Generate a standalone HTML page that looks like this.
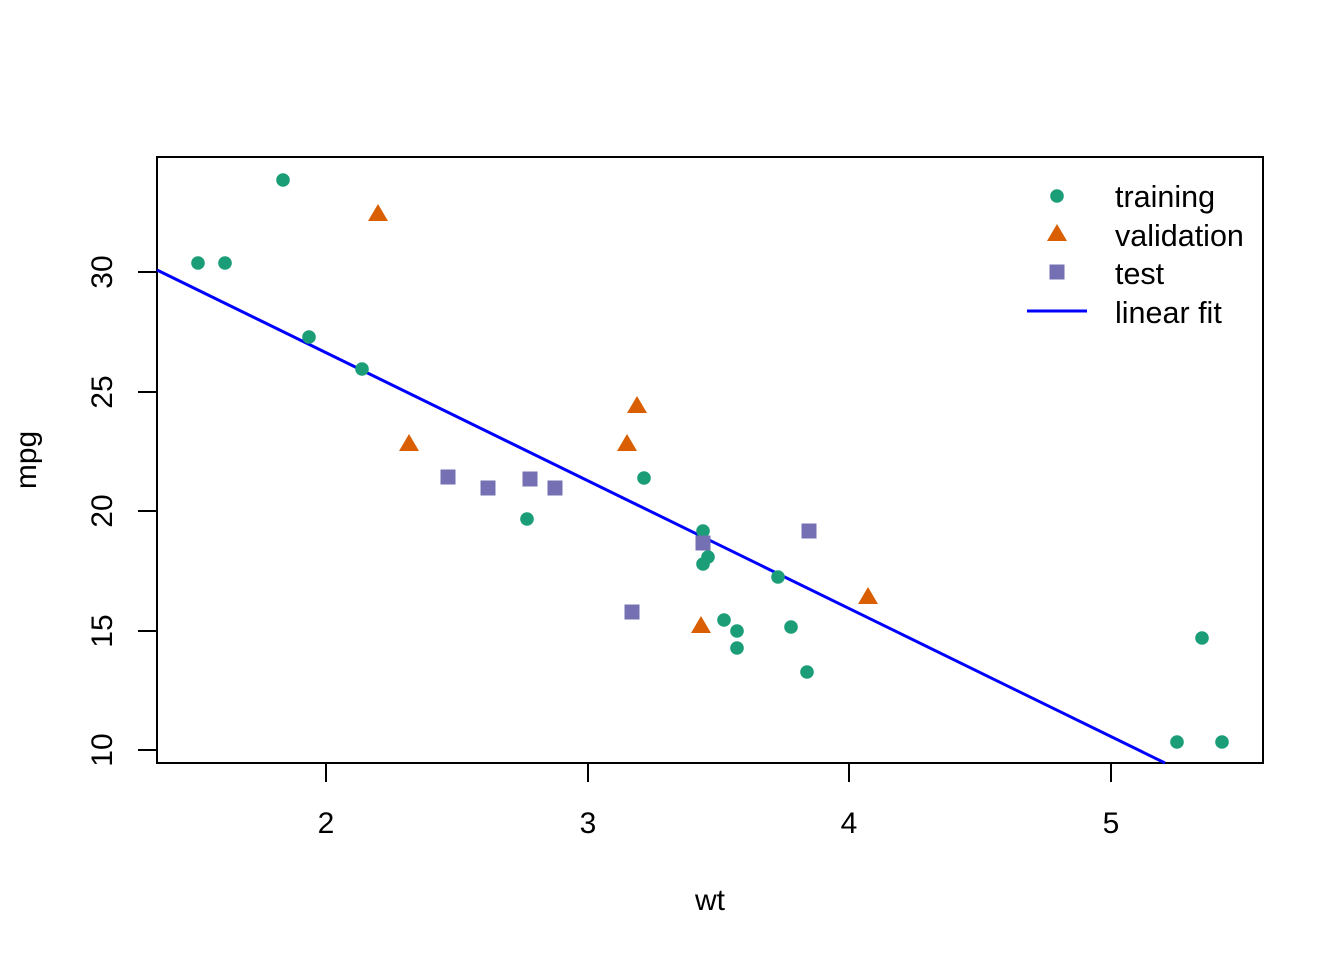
<!DOCTYPE html>
<html><head><meta charset="utf-8"><style>body{margin:0;background:#fff}svg{display:block}</style></head><body>
<svg width="1344" height="960" xmlns="http://www.w3.org/2000/svg" font-family="Liberation Sans, Arial, sans-serif">
<rect width="1344" height="960" fill="#fff"/>
<rect x="157" y="157" width="1106" height="606" fill="none" stroke="#000" stroke-width="2"/>
<g stroke="#000" stroke-width="2">
<line x1="326" y1="763" x2="326" y2="782"/><line x1="588" y1="763" x2="588" y2="782"/><line x1="849" y1="763" x2="849" y2="782"/><line x1="1111" y1="763" x2="1111" y2="782"/>
<line x1="157" y1="750" x2="138" y2="750"/><line x1="157" y1="631" x2="138" y2="631"/><line x1="157" y1="511" x2="138" y2="511"/><line x1="157" y1="392" x2="138" y2="392"/><line x1="157" y1="272" x2="138" y2="272"/>
</g>
<g font-size="30" text-anchor="middle" fill="#000">
<text x="326" y="833">2</text><text x="588" y="833">3</text><text x="849" y="833">4</text><text x="1111" y="833">5</text>
<text x="710" y="910">wt</text>
<text transform="translate(112,750) rotate(-90)">10</text>
<text transform="translate(112,631) rotate(-90)">15</text>
<text transform="translate(112,511) rotate(-90)">20</text>
<text transform="translate(112,392) rotate(-90)">25</text>
<text transform="translate(112,272) rotate(-90)">30</text>
<text transform="translate(36,460) rotate(-90)">mpg</text>
</g>
<line x1="157" y1="270" x2="1165" y2="763" stroke="#0000ff" stroke-width="3"/>
<g fill="#1B9E77">
<circle cx="283" cy="180" r="6.8"/><circle cx="198" cy="263" r="6.8"/><circle cx="225" cy="263" r="6.8"/><circle cx="309" cy="337" r="6.8"/><circle cx="362" cy="369" r="6.8"/><circle cx="644" cy="478" r="6.8"/><circle cx="527" cy="519" r="6.8"/><circle cx="703" cy="531" r="6.8"/><circle cx="708" cy="557" r="6.8"/><circle cx="703" cy="564" r="6.8"/><circle cx="778" cy="577" r="6.8"/><circle cx="724" cy="620" r="6.8"/><circle cx="737" cy="631" r="6.8"/><circle cx="791" cy="627" r="6.8"/><circle cx="737" cy="648" r="6.8"/><circle cx="807" cy="672" r="6.8"/><circle cx="1202" cy="638" r="6.8"/><circle cx="1177" cy="742" r="6.8"/><circle cx="1222" cy="742" r="6.8"/>
<circle cx="1057" cy="196" r="6.8"/>
</g>
<g fill="#D95F02">
<polygon points="378,204 388,221 368,221"/><polygon points="409,434 419,451 399,451"/><polygon points="637,396 647,413 627,413"/><polygon points="627,434 637,451 617,451"/><polygon points="868,587 878,604 858,604"/><polygon points="701,616 711,633 691,633"/>
<polygon points="1057,224 1067,241 1047,241"/>
</g>
<g fill="#7570B3">
<rect x="440.5" y="469.5" width="15" height="15"/><rect x="480.5" y="480.5" width="15" height="15"/><rect x="522.5" y="471.5" width="15" height="15"/><rect x="547.5" y="480.5" width="15" height="15"/><rect x="695.5" y="535.5" width="15" height="15"/><rect x="624.5" y="604.5" width="15" height="15"/><rect x="801.5" y="523.5" width="15" height="15"/>
<rect x="1049.5" y="264.5" width="15" height="15"/>
</g>
<line x1="1027" y1="311" x2="1087" y2="311" stroke="#0000ff" stroke-width="3"/>
<g font-size="30.5" fill="#000">
<text x="1115" y="207">training</text><text x="1115" y="246">validation</text><text x="1115" y="284">test</text><text x="1115" y="323">linear fit</text>
</g>
</svg>
</body></html>
